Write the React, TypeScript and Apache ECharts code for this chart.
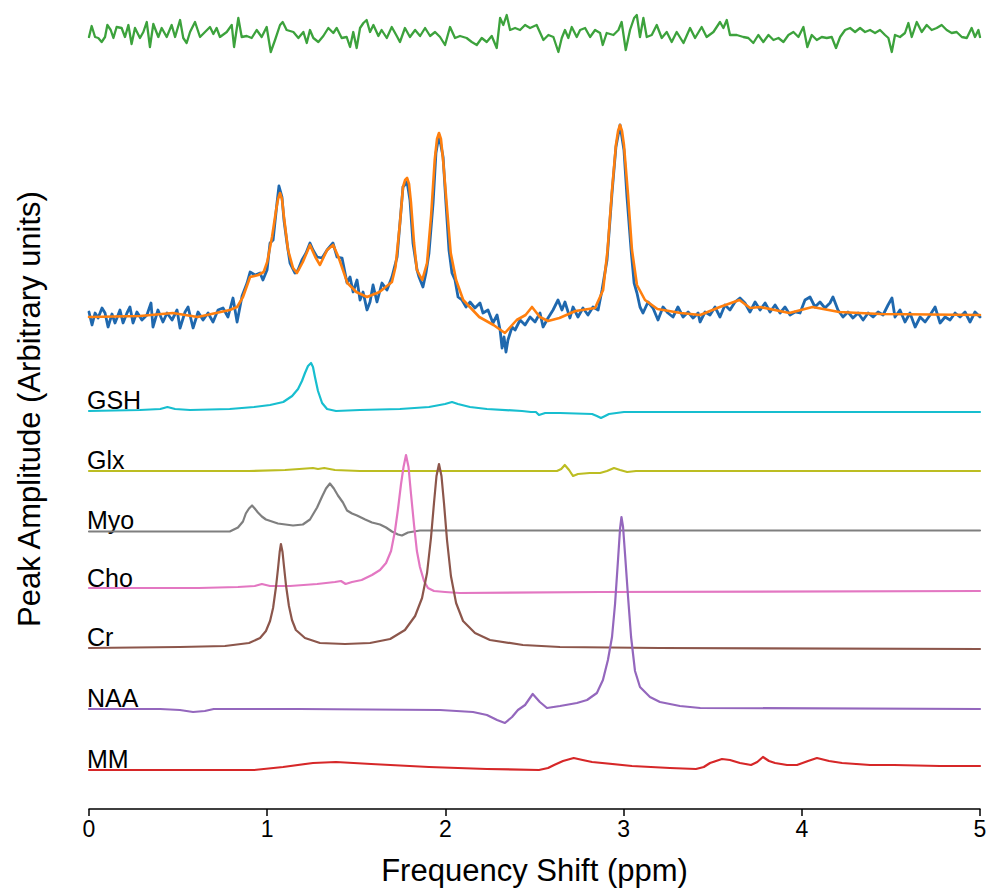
import React, { useEffect, useRef } from "react";
import * as echarts from "echarts";

type Pt = [number, number];

// x axis ticks (ppm)
const ppmTicks = [0, 1, 2, 3, 4, 5];

// names of the fitted components, top to bottom
const componentNames = ["GSH", "Glx", "Myo", "Cho", "Cr", "NAA", "MM"];
const componentColors = ["#17becf", "#bcbd22", "#7f7f7f", "#e377c2", "#8c564b", "#9467bd", "#d62728"];
// vertical offsets (arbitrary units) used to stack the traces
const componentOffsets = [398, 338, 277.5, 220, 161, 100, 39];
const residualOffset = 774;
const spectrumOffset = 492;

// residual (green), [ppm, amplitude]
const residual: Pt[] = [
  [0, -2], [0.015, 9], [0.034, -2], [0.052, -3], [0.071, -7], [0.09, -2], [0.103, 10], [0.122, 5], [0.137, -3],
  [0.155, 8], [0.183, 7], [0.202, -2], [0.221, 10], [0.239, -9], [0.258, 7], [0.286, -3], [0.305, 3], [0.324, 13],
  [0.342, -12], [0.361, 11], [0.389, -2], [0.408, 7], [0.436, -2], [0.464, 10], [0.483, -2], [0.511, 15], [0.529, -3],
  [0.548, -8], [0.567, 3], [0.595, 13], [0.623, -2], [0.651, 3], [0.679, 8], [0.698, 1], [0.716, 7], [0.735, -2],
  [0.773, 3], [0.801, 10], [0.814, -12], [0.838, 17], [0.857, -2], [0.885, -1], [0.913, -3], [0.941, 5], [0.969, -2],
  [0.997, 8], [1.02, -17], [1.044, -5], [1.072, 10], [1.087, 13], [1.109, 5], [1.147, 3], [1.175, -3], [1.203, 3],
  [1.222, -8], [1.24, 5], [1.259, -3], [1.287, -7], [1.315, -1], [1.343, 7], [1.371, 2], [1.39, 7], [1.418, -3],
  [1.446, -2], [1.465, -12], [1.483, 3], [1.502, -13], [1.521, 7], [1.54, 12], [1.558, 15], [1.577, 3], [1.596, 10],
  [1.624, -1], [1.642, 5], [1.671, -3], [1.699, 8], [1.727, -1], [1.745, -7], [1.773, 7], [1.801, -2], [1.83, 5],
  [1.858, -1], [1.886, 7], [1.914, -1], [1.942, 3], [1.97, -2], [1.998, -10], [2.026, 8], [2.054, -3], [2.082, -1],
  [2.119, -3], [2.148, -7], [2.176, -10], [2.204, -3], [2.232, -7], [2.26, -1], [2.288, -13], [2.307, 17], [2.325, 10],
  [2.344, 20], [2.363, 5], [2.391, 7], [2.419, 5], [2.447, 10], [2.475, 7], [2.512, 10], [2.55, -5], [2.578, 0],
  [2.606, -2], [2.634, -17], [2.653, -3], [2.671, 5], [2.69, -3], [2.709, 8], [2.737, -2], [2.756, 5], [2.784, 7],
  [2.812, -2], [2.84, 5], [2.868, 2], [2.883, -10], [2.905, 2], [2.943, 0], [2.971, 5], [2.989, 13], [3.012, -15],
  [3.036, 5], [3.059, 17], [3.074, 20], [3.092, -2], [3.111, 17], [3.13, -2], [3.158, 0], [3.186, 10], [3.214, -3],
  [3.242, 3], [3.27, -7], [3.298, 3], [3.336, -8], [3.373, 7], [3.401, -3], [3.438, 8], [3.466, -2], [3.504, 3],
  [3.541, 13], [3.56, 7], [3.579, 15], [3.597, 0], [3.635, 0], [3.672, -2], [3.7, -3], [3.728, -8], [3.756, 0],
  [3.784, -7], [3.813, 0], [3.841, -5], [3.869, -3], [3.897, -7], [3.925, 0], [3.953, 3], [3.981, -2], [4.009, 8],
  [4.031, -12], [4.056, 0], [4.084, -5], [4.112, -2], [4.14, -3], [4.168, -2], [4.192, -13], [4.215, -2], [4.243, 5],
  [4.271, 7], [4.299, 3], [4.327, 7], [4.355, 3], [4.383, 5], [4.411, 2], [4.439, 5], [4.467, 0], [4.486, -3],
  [4.505, -17], [4.523, 0], [4.551, -2], [4.579, 2], [4.598, 12], [4.617, -2], [4.645, 13], [4.673, 3], [4.701, 10],
  [4.729, 5], [4.757, 7], [4.785, 10], [4.813, 5], [4.841, 2], [4.869, 3], [4.898, -2], [4.926, -3], [4.953, 7],
  [4.972, -2], [4.991, 5], [5, -2],
];

// measured spectrum (blue), [ppm, amplitude]
const spectrum: Pt[] = [
  [0, 5], [0.017, -8], [0.034, 4], [0.051, -1], [0.073, 9], [0.09, 4], [0.107, -10], [0.129, 3], [0.146, -6],
  [0.174, 7], [0.191, -6], [0.213, 4], [0.23, 10], [0.247, -6], [0.269, 5], [0.297, -3], [0.325, 2], [0.348, 14],
  [0.359, -10], [0.387, 7], [0.415, -5], [0.438, 4], [0.466, -3], [0.494, 7], [0.511, -11], [0.539, 5], [0.556, 10],
  [0.584, -11], [0.612, 5], [0.64, -3], [0.668, 4], [0.696, -5], [0.724, 7], [0.752, 9], [0.78, 0], [0.808, 19],
  [0.831, -5], [0.859, 21], [0.887, 34], [0.904, 45], [0.932, 42], [0.96, 44], [0.976, 37], [0.999, 47], [1.016, 74],
  [1.033, 77], [1.055, 114], [1.066, 131], [1.083, 120], [1.094, 97], [1.111, 74], [1.128, 54], [1.156, 44],
  [1.173, 47], [1.195, 57], [1.218, 64], [1.24, 74], [1.257, 67], [1.28, 60], [1.308, 59], [1.336, 67], [1.369, 74],
  [1.392, 60], [1.42, 59], [1.448, 34], [1.465, 40], [1.482, 25], [1.504, 37], [1.521, 17], [1.538, 25], [1.56, 7],
  [1.577, 15], [1.594, 32], [1.616, 15], [1.644, 34], [1.672, 27], [1.7, 40], [1.729, 60], [1.745, 94], [1.762, 130],
  [1.785, 135], [1.801, 117], [1.818, 74], [1.841, 47], [1.852, 40], [1.874, 30], [1.891, 44], [1.908, 64],
  [1.931, 114], [1.947, 164], [1.964, 182], [1.987, 160], [2.003, 114], [2.02, 67], [2.037, 44], [2.054, 37],
  [2.071, 20], [2.093, 17], [2.116, 10], [2.138, 15], [2.166, 9], [2.194, 14], [2.211, 4], [2.239, 7], [2.267, -6],
  [2.29, 2], [2.307, -13], [2.318, -31], [2.329, -20], [2.34, -35], [2.351, -23], [2.374, -10], [2.391, -13],
  [2.419, -3], [2.447, -8], [2.475, 0], [2.503, -5], [2.531, 4], [2.548, -10], [2.576, -1], [2.604, 7], [2.632, 17],
  [2.654, 7], [2.671, 15], [2.699, -1], [2.716, 10], [2.744, 0], [2.772, 9], [2.8, 2], [2.828, 10], [2.857, 7],
  [2.879, 27], [2.907, 57], [2.935, 124], [2.957, 170], [2.98, 192], [3.002, 167], [3.019, 120], [3.042, 67],
  [3.059, 34], [3.075, 24], [3.092, 10], [3.109, 4], [3.137, 15], [3.165, 9], [3.193, -3], [3.221, 10], [3.249, 4],
  [3.277, 0], [3.305, 10], [3.334, 0], [3.362, 5], [3.39, -1], [3.418, 4], [3.429, -5], [3.457, 5], [3.485, 2],
  [3.513, 10], [3.541, 0], [3.569, 12], [3.597, 7], [3.625, 15], [3.653, 19], [3.681, 14], [3.709, 5], [3.738, 15],
  [3.766, 7], [3.794, 14], [3.822, 5], [3.85, 12], [3.878, 4], [3.906, 10], [3.934, 2], [3.962, 5], [3.99, 4],
  [4.018, 17], [4.046, 20], [4.074, 10], [4.102, 15], [4.13, 9], [4.158, 14], [4.175, 20], [4.203, 7], [4.231, 0],
  [4.259, 5], [4.287, -1], [4.316, 4], [4.344, -3], [4.372, 4], [4.4, 0], [4.428, 5], [4.456, 2], [4.484, 12],
  [4.506, 19], [4.523, 0], [4.551, 7], [4.579, -5], [4.607, 4], [4.636, -10], [4.664, 0], [4.692, -5], [4.72, 2],
  [4.748, 10], [4.776, -6], [4.804, 0], [4.832, -3], [4.86, 4], [4.888, 0], [4.916, 5], [4.944, -5], [4.972, 5],
  [5, 0],
];

// model fit (orange), [ppm, amplitude]
const fit: Pt[] = [
  [0, 0], [0.286, 1], [0.47, 4], [0.61, 0], [0.79, 7], [0.831, 10], [0.864, 20], [0.904, 40], [0.95, 42], [0.98, 45],
  [1.0, 55], [1.027, 80], [1.05, 107], [1.061, 118], [1.072, 124], [1.083, 118], [1.094, 100], [1.117, 67],
  [1.145, 49], [1.167, 44], [1.2, 55], [1.24, 72], [1.27, 60], [1.296, 52], [1.336, 67], [1.37, 72], [1.4, 60],
  [1.45, 34], [1.5, 25], [1.56, 20], [1.63, 25], [1.7, 35], [1.72, 50], [1.745, 94], [1.762, 130], [1.774, 137],
  [1.785, 139], [1.796, 133], [1.807, 114], [1.824, 74], [1.84, 47], [1.87, 37], [1.897, 54], [1.92, 102],
  [1.94, 157], [1.953, 178], [1.964, 184], [1.975, 178], [1.987, 157], [2.01, 107], [2.03, 64], [2.06, 37],
  [2.1, 17], [2.19, 0], [2.27, -8], [2.334, -16], [2.4, -3], [2.45, 2], [2.486, 10], [2.53, 0], [2.576, -4],
  [2.64, -1], [2.73, 6], [2.84, 9], [2.885, 27], [2.91, 67], [2.935, 127], [2.957, 172], [2.969, 186], [2.98, 192],
  [2.991, 186], [3.002, 172], [3.025, 122], [3.047, 67], [3.075, 32], [3.12, 17], [3.19, 8], [3.32, 4], [3.43, 2],
  [3.54, 10], [3.65, 17], [3.71, 9], [3.765, 10], [3.93, 4], [4.06, 10], [4.21, 5], [4.44, 3], [5, 2],
];

const gsh: Pt[] = [
  [0, 0], [0.286, 1], [0.4, 2], [0.44, 4], [0.483, 2], [0.567, 1], [0.79, 2], [0.926, 4], [1.016, 6], [1.09, 9],
  [1.14, 15], [1.173, 22], [1.195, 30], [1.212, 38], [1.229, 45], [1.246, 48], [1.257, 44], [1.268, 34],
  [1.285, 20], [1.308, 8], [1.336, 2], [1.386, 0], [1.52, 1], [1.745, 2], [1.908, 4], [1.998, 7], [2.037, 9],
  [2.07, 7], [2.138, 4], [2.233, 2], [2.43, 0], [2.48, -1], [2.508, -1], [2.525, -4], [2.56, -2], [2.643, -2],
  [2.823, -3], [2.85, -5], [2.873, -7], [2.896, -5], [2.918, -3], [3.002, -1], [5, -1],
];

const glx: Pt[] = [
  [0, 0], [0.9, 0], [1.1, 1], [1.18, 2], [1.257, 3], [1.285, 2], [1.32, 3], [1.38, 1], [1.52, 0], [2.56, 0],
  [2.626, 0], [2.65, 2], [2.67, 6], [2.694, 1], [2.716, -5], [2.744, -3], [2.81, -2], [2.868, -2], [2.907, 0],
  [2.946, 3], [2.98, 1], [3.02, -1], [3.07, 0], [5, 0],
];

const myo: Pt[] = [
  [0, 0], [0.79, 0], [0.836, 4], [0.864, 10], [0.88, 18], [0.898, 23], [0.915, 26], [0.93, 23], [0.948, 19],
  [0.97, 15], [0.993, 12], [1.06, 8], [1.145, 6], [1.2, 7], [1.24, 12], [1.28, 24], [1.308, 35], [1.33, 43],
  [1.352, 48], [1.374, 43], [1.397, 36], [1.425, 29], [1.448, 21], [1.476, 18], [1.504, 16], [1.55, 12],
  [1.588, 9], [1.633, 7], [1.667, 4], [1.7, 0], [1.734, -3], [1.756, -4], [1.79, -1], [1.857, 1], [1.97, 1], [5, 1],
];

const cho: Pt[] = [
  [0, 1], [0.617, 1], [0.836, 2], [0.93, 3], [0.97, 5], [1.016, 3], [1.128, 3], [1.28, 5], [1.38, 7], [1.414, 8],
  [1.44, 5], [1.476, 7], [1.53, 9], [1.588, 14], [1.633, 19], [1.667, 26], [1.695, 38], [1.717, 58], [1.734, 80],
  [1.751, 105], [1.765, 122], [1.779, 134], [1.793, 122], [1.807, 95], [1.824, 64], [1.84, 38], [1.857, 22],
  [1.88, 8], [1.902, 1], [1.936, -2], [1.998, -3], [2.08, -4], [2.868, -3], [5, -2],
];

const cr: Pt[] = [
  [0, 0], [0.51, 1], [0.763, 2], [0.898, 5], [0.96, 10], [0.993, 17], [1.016, 27], [1.033, 40], [1.05, 62],
  [1.061, 80], [1.07, 96], [1.077, 104], [1.086, 96], [1.094, 82], [1.106, 62], [1.122, 42], [1.139, 28],
  [1.161, 18], [1.212, 10], [1.296, 5], [1.437, 4], [1.577, 5], [1.69, 9], [1.773, 18], [1.83, 32], [1.869, 50],
  [1.897, 75], [1.919, 110], [1.936, 145], [1.95, 172], [1.964, 184], [1.978, 172], [1.992, 145], [2.009, 108],
  [2.031, 72], [2.06, 45], [2.099, 27], [2.166, 15], [2.25, 8], [2.435, 3], [2.643, 1], [3.2, 0], [5, -1],
];

const naa: Pt[] = [
  [0, 0], [0.4, 0], [0.51, -1], [0.584, -3], [0.65, -2], [0.7, 0], [1.18, 0], [1.97, -1], [2.155, -3],
  [2.233, -6], [2.29, -11], [2.334, -14], [2.374, -8], [2.407, -1], [2.447, 4], [2.49, 15], [2.53, 7], [2.57, 1],
  [2.643, 3], [2.738, 6], [2.795, 9], [2.85, 16], [2.884, 29], [2.912, 49], [2.935, 72], [2.952, 105],
  [2.969, 150], [2.98, 180], [2.988, 192], [2.997, 182], [3.008, 155], [3.025, 112], [3.042, 72], [3.064, 38],
  [3.092, 22], [3.148, 12], [3.204, 7], [3.316, 3], [3.43, 1], [5, 0],
];

const mm: Pt[] = [
  [0, 0], [0.926, 0], [1.089, 3], [1.257, 7], [1.386, 8], [1.583, 6], [1.908, 3], [2.233, 1], [2.525, 0],
  [2.576, 2], [2.61, 5], [2.66, 9], [2.72, 12], [2.77, 10], [2.823, 8], [3.047, 4], [3.26, 2], [3.406, 1],
  [3.45, 3], [3.485, 7], [3.552, 11], [3.597, 10], [3.653, 7], [3.715, 5], [3.75, 8], [3.782, 13], [3.816, 9],
  [3.85, 7], [3.917, 5], [3.973, 5], [4.035, 9], [4.085, 12], [4.153, 9], [4.226, 7], [4.383, 5], [4.517, 5],
  [4.776, 4], [5, 4],
];

const componentData: Pt[][] = [gsh, glx, myo, cho, cr, naa, mm];

const FONT = "'Liberation Sans', Arial, Helvetica, sans-serif";

const shift = (pts: Pt[], off: number) => pts.map(([x, y]) => [x, y + off]);

export default function App() {
  const ref = useRef<HTMLDivElement>(null);

  useEffect(() => {
    if (!ref.current) return;
    const chart = echarts.init(ref.current, undefined, { renderer: "svg" });

    const lineSeries = (name: string, data: Pt[], off: number, color: string, width: number) => ({
      type: "line",
      name,
      data: shift(data, off),
      showSymbol: false,
      symbol: "none",
      silent: true,
      lineStyle: { color, width, cap: "round", join: "round" },
    });

    const series: any[] = [
      lineSeries("Residual", residual, residualOffset, "#3ca23c", 2.3),
      lineSeries("Data", spectrum, spectrumOffset, "#1f68ae", 2.8),
      lineSeries("Fit", fit, spectrumOffset, "#ff7f0e", 2.6),
      ...componentNames.map((n, i) =>
        lineSeries(n, componentData[i], componentOffsets[i], componentColors[i], 2.2)
      ),
    ];

    chart.setOption({
      animation: false,
      textStyle: { fontFamily: FONT },
      grid: { left: 89, right: 12, top: 9, bottom: 83, containLabel: false },
      xAxis: {
        type: "value",
        min: ppmTicks[0],
        max: ppmTicks[ppmTicks.length - 1],
        interval: 1,
        name: "Frequency Shift (ppm)",
        nameLocation: "middle",
        nameGap: 46,
        nameTextStyle: { fontSize: 31, color: "#000", fontFamily: FONT },
        axisLine: { show: true, lineStyle: { color: "#000", width: 1.5 } },
        axisTick: { show: true, length: 7, lineStyle: { color: "#000", width: 1.5 } },
        axisLabel: { fontSize: 23, color: "#000", margin: 8, fontFamily: FONT },
        splitLine: { show: false },
      },
      yAxis: {
        type: "value",
        min: 0,
        max: 800,
        name: "Peak Amplitude (Arbitrary units)",
        nameLocation: "middle",
        nameGap: 44,
        nameTextStyle: { fontSize: 31, color: "#000", fontFamily: FONT },
        axisLine: { show: false },
        axisTick: { show: false },
        axisLabel: { show: false },
        splitLine: { show: false },
      },
      series,
    });

    const graphics = componentNames.map((n, i) => {
      const p = chart.convertToPixel({ xAxisIndex: 0, yAxisIndex: 0 }, [0, componentOffsets[i]]) as number[];
      return {
        type: "text",
        x: p[0] - 2,
        y: p[1] + 1,
        silent: true,
        style: {
          text: n,
          fontSize: 25,
          fontFamily: FONT,
          fill: "#000",
          textAlign: "left",
          textVerticalAlign: "bottom",
          verticalAlign: "bottom",
        },
      };
    });
    chart.setOption({ graphic: graphics });

    return () => chart.dispose();
  }, []);

  return (
    <div
      ref={ref}
      style={{ position: "fixed", left: 0, top: 0, width: 992, height: 892, background: "#fff" }}
    />
  );
}
